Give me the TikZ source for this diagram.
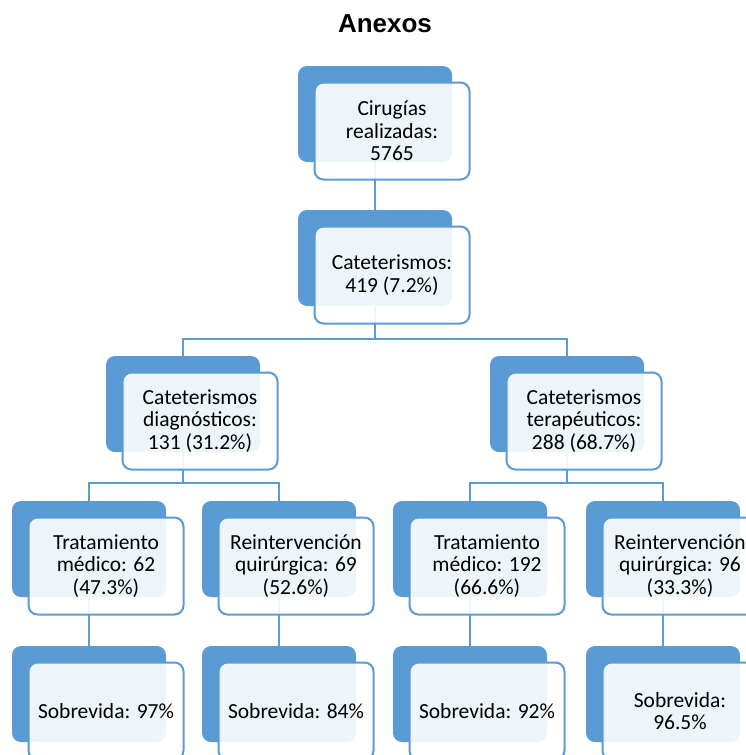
\documentclass[tikz,border=0pt]{standalone}
\usepackage{fontspec}
\newfontfamily\boxfont{Carlito}
\newfontfamily\titlefont{Liberation Sans}
\definecolor{boxblue}{HTML}{5B9BD5}
\tikzset{
	backbox/.style={shape=rectangle, rounded corners=9pt, fill=boxblue, minimum width=154pt, minimum height=96pt, inner sep=0pt},
	frontbox/.style={shape=rectangle, rounded corners=9pt, draw=boxblue, line width=2pt, fill=white, fill opacity=0.9, draw opacity=1, text opacity=1, minimum width=155pt, minimum height=97pt, inner sep=0pt, align=center, font={\boxfont\fontsize{21.5}{22.5}\selectfont}},
	link/.style={draw=boxblue, line width=2pt}
}
\begin{document}
\begin{tikzpicture}[x=1pt, y=-1pt]
			\useasboundingbox (0,0) rectangle (746,755);
			%Title:
			\node[font={\titlefont\bfseries\fontsize{26}{30}\selectfont}] (title) at (385,24) {Anexos};
			%Back boxes:
			\path
				(375,114) node[backbox] (cirB) {}
				(375,258) node[backbox] (catB) {}
				(183,404) node[backbox] (diagB) {}
				(567,404) node[backbox] (terB) {}
				(89,549) node[backbox] (tmdB) {}
				(279,549) node[backbox] (rqdB) {}
				(470,549) node[backbox] (tmtB) {}
				(663,549) node[backbox] (rqtB) {}
				(89,694) node[backbox] (svaB) {}
				(279,694) node[backbox] (svbB) {}
				(470,694) node[backbox] (svcB) {}
				(663,694) node[backbox] (svdB) {};
			%Links:
			\coordinate (barC) at (375,339);
			\coordinate (barD) at (183,483);
			\coordinate (barT) at (567,483);
			\draw[link] (cirB.south) -- (catB.north);
			\draw[link] (catB.south) -- (barC);
			\draw[link] (diagB.north) |- (barC) -| (terB.north);
			\draw[link] (diagB.south) -- (barD);
			\draw[link] (tmdB.north) |- (barD) -| (rqdB.north);
			\draw[link] (terB.south) -- (barT);
			\draw[link] (tmtB.north) |- (barT) -| (rqtB.north);
			\draw[link] (tmdB.south) -- (svaB.north);
			\draw[link] (rqdB.south) -- (svbB.north);
			\draw[link] (tmtB.south) -- (svcB.north);
			\draw[link] (rqtB.south) -- (svdB.north);
			%Front boxes:
			\path
				(392,131) node[frontbox] (cir) {Cirugías\\realizadas:\\5765}
				(392,275) node[frontbox] (cat) {Cateterismos:\\419 (7.2\%)}
				(200,421) node[frontbox] (diag) {Cateterismos\\diagnósticos:\\131 (31.2\%)}
				(584,421) node[frontbox] (ter) {Cateterismos\\terapéuticos:\\288 (68.7\%)}
				(106,566) node[frontbox] (tmd) {Tratamiento\\médico: 62\\(47.3\%)}
				(296,566) node[frontbox] (rqd) {Reintervención\\quirúrgica: 69\\(52.6\%)}
				(487,566) node[frontbox] (tmt) {Tratamiento\\médico: 192\\(66.6\%)}
				(680,566) node[frontbox] (rqt) {Reintervención\\quirúrgica: 96\\(33.3\%)}
				(106,711) node[frontbox] (sva) {Sobrevida: 97\%}
				(296,711) node[frontbox] (svb) {Sobrevida: 84\%}
				(487,711) node[frontbox] (svc) {Sobrevida: 92\%}
				(680,711) node[frontbox] (svd) {Sobrevida:\\96.5\%};
\end{tikzpicture}
\end{document}
